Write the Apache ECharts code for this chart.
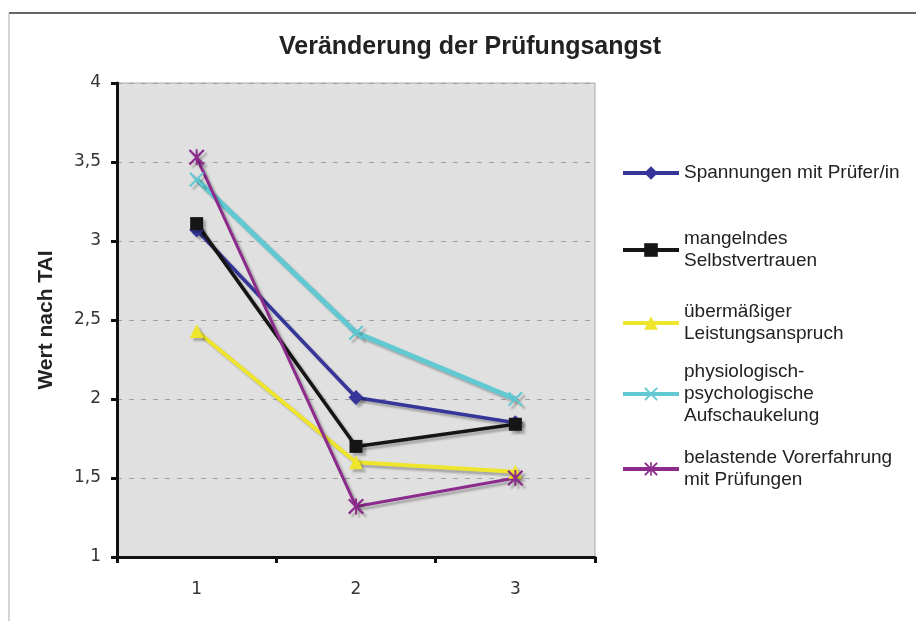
<!DOCTYPE html>
<html>
<head>
<meta charset="utf-8">
<script src="https://cdn.jsdelivr.net/npm/echarts@6/dist/echarts.min.js"></script>
<style>
  html, body { margin: 0; padding: 0; background: #fff; }
  #chart { width: 916px; height: 621px; }
</style>
</head>
<body>
<div id="chart"></div>
<script>
const categories = ['1', '2', '3'];
const seriesNames = [
  'Spannungen mit Prüfer/in',
  'mangelndes\nSelbstvertrauen',
  'übermäßiger\nLeistungsanspruch',
  'physiologisch-\npsychologische\nAufschaukelung',
  'belastende Vorerfahrung\nmit Prüfungen'
];
const spannungen = [3.07, 2.01, 1.85];
const selbstvertrauen = [3.11, 1.70, 1.84];
const leistungsanspruch = [2.43, 1.60, 1.54];
const aufschaukelung = [3.39, 2.42, 2.00];
const vorerfahrung = [3.53, 1.32, 1.50];
const yTicks = { min: 1, max: 4, interval: 0.5 };

const colors = ['#35359a', '#151515', '#eee52c', '#62c9d2', '#8c2b8c'];
const crossPath = 'path://M0,1L1,0L5,4L9,0L10,1L6,5L10,9L9,10L5,6L1,10L0,9L4,5Z';
const starPath = 'path://M0,1L1,0L5,4L9,0L10,1L6,5L10,9L9,10L5,6L1,10L0,9L4,5ZM4.4,0L5.6,0L5.6,10L4.4,10Z';
const symbols = ['diamond', 'rect', 'triangle', crossPath, starPath];
const symbolSizes = [15, 13, 14, 15, 16];
const lineWidths = [3.5, 3.5, 4, 5, 3];
const seriesData = [spannungen, selbstvertrauen, leistungsanspruch, aufschaukelung, vorerfahrung];

const font = '"Liberation Sans", Arial, sans-serif';
const tickFont = '"DejaVu Sans", sans-serif';
const lineH = 22;
// icon y position of each legend entry (icon sits at the first text line)
const legendIconY = [173, 250, 323, 394, 469];

const chart = echarts.init(document.getElementById('chart'), null, { renderer: 'canvas' });

const legends = seriesNames.map((name, i) => {
  const n = name.split('\n').length;
  return {
    orient: 'vertical',
    left: 616,
    top: legendIconY[i] - (2 * n - 1) * lineH / 2 - 5,
    itemWidth: 56,
    itemHeight: 17,
    selectedMode: false,
    lineStyle: { width: 4 },
    data: [{
      name: name,
      textStyle: { padding: [(n - 1) * lineH, 0, 0, 0] }
    }],
    textStyle: { fontFamily: font, fontSize: 19, color: '#222', lineHeight: lineH }
  };
});

chart.setOption({
  animation: false,
  backgroundColor: '#fff',
  title: {
    text: 'Veränderung der Prüfungsangst',
    left: 465,
    top: 30,
    textAlign: 'center',
    textStyle: { fontFamily: font, fontSize: 25, fontWeight: 'bold', color: '#222' }
  },
  graphic: [
    { type: 'line', shape: { x1: 9, y1: 13, x2: 916, y2: 13 }, style: { stroke: '#666', lineWidth: 2 } },
    { type: 'line', shape: { x1: 9, y1: 13, x2: 9, y2: 621 }, style: { stroke: '#aaa', lineWidth: 1 } }
  ],
  legend: legends,
  grid: {
    left: 117, top: 83, right: 321, bottom: 64,
    show: true,
    backgroundColor: '#e0e0e0',
    borderColor: '#a8a8a8',
    borderWidth: 1
  },
  xAxis: {
    type: 'category',
    data: categories,
    boundaryGap: true,
    axisLine: { lineStyle: { color: '#111', width: 3 } },
    axisTick: { show: true, length: 6, lineStyle: { color: '#111', width: 3 } },
    axisLabel: { fontFamily: tickFont, fontSize: 17, color: '#333', margin: 24 },
    splitLine: { show: false }
  },
  yAxis: {
    type: 'value',
    min: yTicks.min,
    max: yTicks.max,
    interval: yTicks.interval,
    name: 'Wert nach TAI',
    nameLocation: 'middle',
    nameGap: 60,
    nameTextStyle: { fontFamily: font, fontSize: 21, fontWeight: 'bold', color: '#222' },
    axisLine: { show: true, lineStyle: { color: '#111', width: 3 } },
    axisTick: { show: true, length: 6, lineStyle: { color: '#111', width: 3 } },
    axisLabel: {
      fontFamily: tickFont, fontSize: 17, color: '#333', margin: 16,
      formatter: v => String(v).replace('.', ',')
    },
    splitLine: { show: true, lineStyle: { color: '#a0a0a0', type: [5, 7], width: 1 } }
  },
  series: seriesNames.map((name, i) => ({
    name: name,
    type: 'line',
    data: seriesData[i],
    symbol: symbols[i],
    symbolSize: symbolSizes[i],
    color: colors[i],
    itemStyle: {
      color: colors[i],
      shadowColor: 'rgba(0,0,0,0.25)', shadowOffsetX: 3, shadowOffsetY: 3, shadowBlur: 2
    },
    lineStyle: {
      width: lineWidths[i],
      color: colors[i],
      shadowColor: 'rgba(0,0,0,0.25)', shadowOffsetX: 3, shadowOffsetY: 3, shadowBlur: 2
    }
  }))
});
</script>
</body>
</html>
